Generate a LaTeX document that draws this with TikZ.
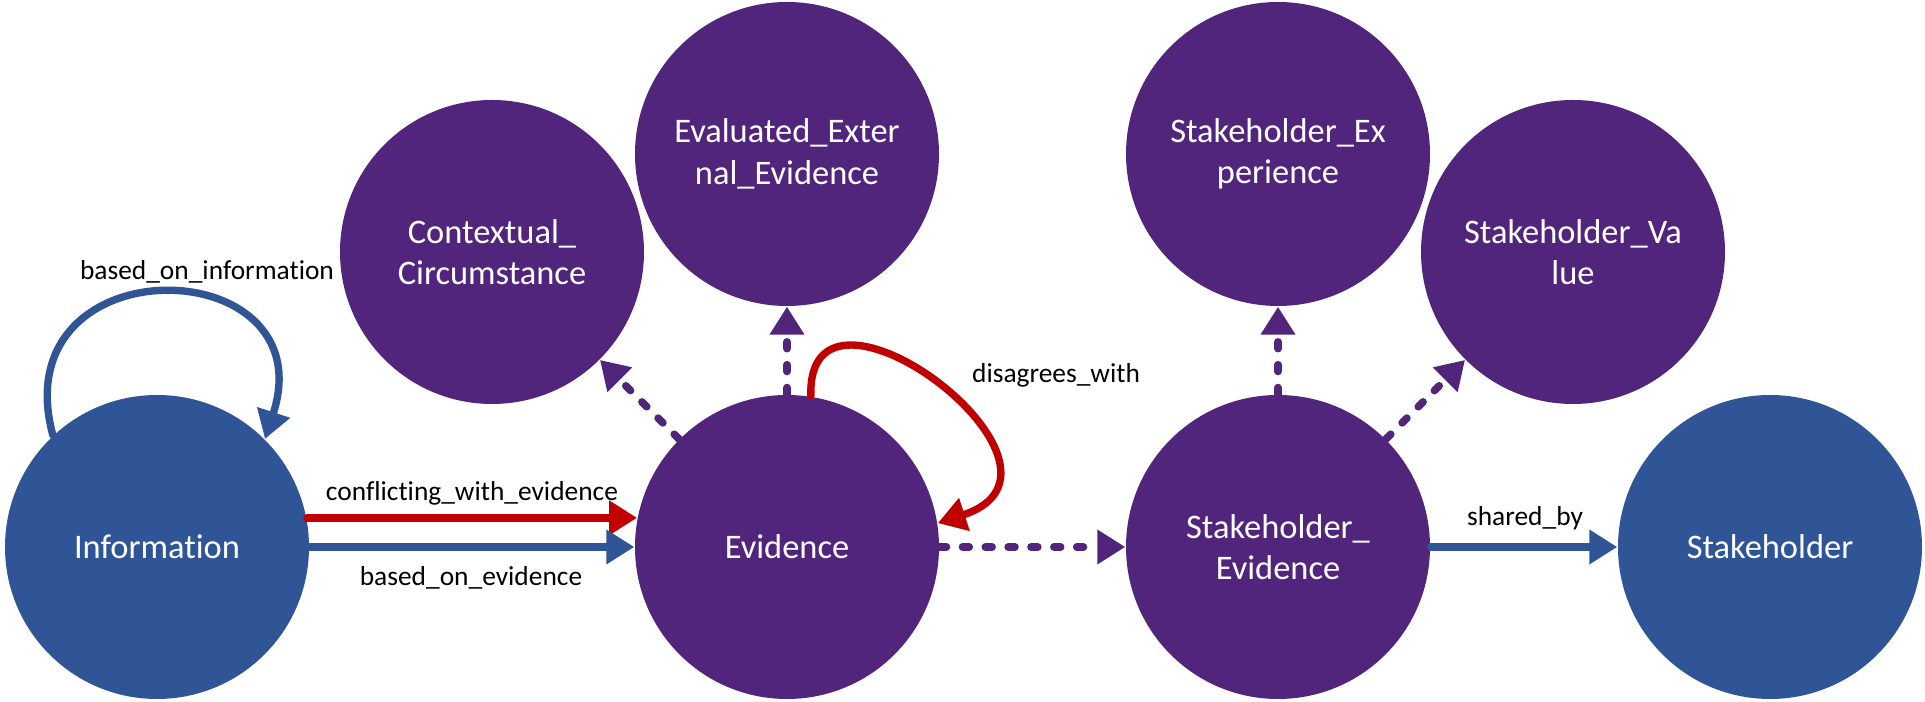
\documentclass[tikz,border=0pt]{standalone}
\usepackage{fontspec}
\setmainfont{Carlito}[Ligatures={NoCommon}]
\usepackage{xcolor}
\usepackage{tikz}
\usetikzlibrary{arrows.meta}
\definecolor{bg}{HTML}{FFFFFF}
\definecolor{navy}{HTML}{2F5597}
\definecolor{plum}{HTML}{52257D}
\definecolor{crimson}{HTML}{C00000}
\definecolor{ink}{HTML}{000000}
\tikzset{
  arrowhd/.style={-{Triangle[length=0.28cm,width=0.33cm]}},
  ent/.style={circle, minimum size=3.04cm, inner sep=0pt, align=center, text=white, font=\fontsize{9.8}{11.8}\selectfont},
  entb/.style={ent, fill=navy},
  entp/.style={ent, fill=plum},
  relb/.style={draw=navy, line width=2.1pt, line cap=round, arrowhd},
  relr/.style={draw=crimson, line width=2.1pt, line cap=round, arrowhd},
  reld/.style={draw=plum, line width=2.2pt, line cap=round, dash pattern=on 1.9pt off 4.6pt, arrowhd},
  lab/.style={text=ink, font=\fontsize{7.8}{9.4}\selectfont, inner sep=0pt},
}
\begin{document}
\begin{tikzpicture}
  \useasboundingbox[fill=bg] (0,0) rectangle (19.25,7.02);
  \node[entb] (I) at (1.57,1.55) {Information};
  \node[entp] (E) at (7.87,1.55) {Evidence};
  \node[entp] (C) at (4.92,4.50) {Contextual\_\\Circumstance};
  \node[entp] (X) at (7.87,5.48) {Evaluated\_Exter\\nal\_Evidence};
  \node[entp] (SE) at (12.78,1.55) {Stakeholder\_\\Evidence};
  \node[entp] (SX) at (12.78,5.48) {Stakeholder\_Ex\\perience};
  \node[entp] (SV) at (15.73,4.50) {Stakeholder\_Va\\lue};
  \node[entb] (S) at (17.70,1.55) {Stakeholder};
  \draw[relb] (I.133) .. controls +(105:2.0) and +(72:2.0) .. (I.45);
  \draw[relr] (I.11) -- (E.169);
  \draw[relb] (I) -- (E);
  \draw[relr] (E.81) .. controls +(92:1.5) and +(18:1.75) .. (E.9);
  \draw[reld] (E) -- (C);
  \draw[reld] (E) -- (X);
  \draw[reld] (E) -- (SE);
  \draw[reld] (SE) -- (SX);
  \draw[reld] (SE) -- (SV);
  \draw[relb] (SE) -- (S);
  \node[lab] (lI) at (2.07,4.30) {based\_on\_information};
  \node[lab] (lc) at (4.72,2.09) {conflicting\_with\_evidence};
  \node[lab] (lb) at (4.71,1.24) {based\_on\_evidence};
  \node[lab] (ld) at (10.56,3.27) {disagrees\_with};
  \node[lab] (ls) at (15.25,1.84) {shared\_by};
\end{tikzpicture}
\end{document}
